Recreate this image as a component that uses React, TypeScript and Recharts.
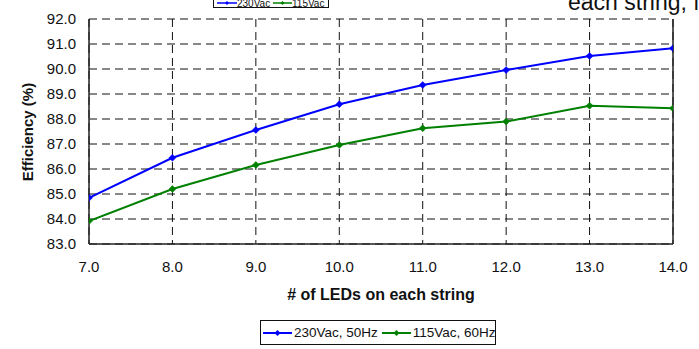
import React from 'react';
import { LineChart, Line, XAxis, YAxis, CartesianGrid, ReferenceLine } from 'recharts';

const ledCounts = [7, 8, 9, 10, 11, 12, 13, 14];
const eff230 = [84.85, 86.45, 87.56, 88.59, 89.36, 89.96, 90.52, 90.83];
const eff115 = [83.92, 85.2, 86.16, 86.96, 87.63, 87.9, 88.53, 88.43];
const xTicks = [7, 8, 9, 10, 11, 12, 13, 14];
const yTicks = [83, 84, 85, 86, 87, 88, 89, 90, 91, 92];
const seriesNames = ['230Vac, 50Hz', '115Vac, 60Hz'];
const topLegendNames = ['230Vac', '115Vac'];
const xTitle = '# of LEDs on each string';
const yTitle = 'Efficiency (%)';
const cutText = 'each string, fi';

const BLUE = '#0000ff';
const GREEN = '#008000';
const FONT = 'Arial, "Liberation Sans", sans-serif';

const data = ledCounts.map((n, i) => ({ n, a: eff230[i], b: eff115[i] }));

const Diamond = (props: any) => {
  const { cx, cy, stroke } = props;
  if (cx == null || cy == null) return null;
  const r = 3.5;
  return (
    <path
      d={`M${cx},${cy - r}L${cx + r},${cy}L${cx},${cy + r}L${cx - r},${cy}Z`}
      fill={stroke}
      stroke={stroke}
      strokeWidth={0.5}
    />
  );
};

const LegendMark = ({ color, w, r }: { color: string; w: number; r: number }) => (
  <svg width={w} height={10} style={{ display: 'inline-block', verticalAlign: 'middle', flexShrink: 0 }}>
    <line x1={0} y1={5} x2={w} y2={5} stroke={color} strokeWidth={2} />
    <path d={`M${w / 2},${5 - r}L${w / 2 + r},5L${w / 2},${5 + r}L${w / 2 - r},5Z`} fill={color} />
  </svg>
);

const dia = (x: number, y: number, r: number) => `M${x},${y - r}L${x + r},${y}L${x},${y + r}L${x - r},${y}Z`;

export default function App() {
  return (
    <div style={{ position: 'absolute', left: 0, top: 0, width: 699, height: 349, background: '#fff', overflow: 'hidden', fontFamily: FONT }}>
      <LineChart width={699} height={349} data={data} margin={{ top: 19, right: 26, left: 0, bottom: 75 }}>
        <CartesianGrid stroke="#111" strokeDasharray="8 5" horizontalValues={yTicks} verticalValues={xTicks} />
        <XAxis
          dataKey="n"
          type="number"
          domain={[7, 14]}
          ticks={xTicks}
          tickFormatter={(v: number) => v.toFixed(1)}
          tickSize={0}
          tickMargin={17}
          height={30}
          axisLine={{ stroke: '#222', strokeWidth: 1.5 }}
          tick={{ fill: '#111', fontSize: 15, fontFamily: FONT }}
          allowDataOverflow
        />
        <YAxis
          type="number"
          domain={[83, 92]}
          ticks={yTicks}
          tickFormatter={(v: number) => v.toFixed(1)}
          tickSize={0}
          tickMargin={13}
          width={89}
          axisLine={{ stroke: '#222', strokeWidth: 1.5 }}
          tick={{ fill: '#111', fontSize: 15, fontFamily: FONT }}
          allowDataOverflow
        />
        <ReferenceLine x={14} stroke="#222" strokeWidth={1.5} />
        <Line type="linear" dataKey="a" name={seriesNames[0]} stroke={BLUE} strokeWidth={2} dot={<Diamond />} isAnimationActive={false} />
        <Line type="linear" dataKey="b" name={seriesNames[1]} stroke={GREEN} strokeWidth={2} dot={<Diamond />} isAnimationActive={false} />
      </LineChart>

      {/* Axis titles */}
      <div style={{ position: 'absolute', left: 0, width: 762, top: 286, textAlign: 'center', fontWeight: 'bold', fontSize: 16, color: '#111' }}>{xTitle}</div>
      <div style={{ position: 'absolute', left: 27, top: 132, transform: 'translate(-50%, -50%) rotate(-90deg)', fontWeight: 'bold', fontSize: 15, color: '#111', whiteSpace: 'nowrap' }}>{yTitle}</div>

      {/* Bottom legend */}
      <div style={{ position: 'absolute', left: 260, top: 320, width: 236, height: 25, border: '1px solid #111', boxSizing: 'border-box', fontSize: 13.5, color: '#111', display: 'flex', alignItems: 'center', paddingLeft: 2, whiteSpace: 'nowrap' }}>
        <LegendMark color={BLUE} w={29} r={3} />
        <span style={{ marginLeft: 2, marginRight: 4 }}>{seriesNames[0]}</span>
        <LegendMark color={GREEN} w={29} r={3} />
        <span style={{ marginLeft: 2 }}>{seriesNames[1]}</span>
      </div>

      {/* Top (cropped) legend */}
      <svg width={118} height={10} style={{ position: 'absolute', left: 212, top: 0 }}>
        <rect x={1.5} y={-10} width={115} height={17.5} fill="#fff" stroke="#111" strokeWidth={1} />
        <line x1={5} y1={3} x2={25} y2={3} stroke={BLUE} strokeWidth={1.5} />
        <path d={dia(15, 3, 2)} fill={BLUE} />
        <text x={25} y={6.5} fontSize={10} fontFamily={FONT} fill="#111">{topLegendNames[0]}</text>
        <line x1={61} y1={3} x2={80} y2={3} stroke={GREEN} strokeWidth={1.5} />
        <path d={dia(70.5, 3, 2)} fill={GREEN} />
        <text x={80} y={6.5} fontSize={10} fontFamily={FONT} fill="#111">{topLegendNames[1]}</text>
      </svg>

      {/* Cropped text top right */}
      <div style={{ position: 'absolute', left: 568, top: -11, fontSize: 23, color: '#111', whiteSpace: 'nowrap', lineHeight: '26px' }}>{cutText}</div>
    </div>
  );
}
